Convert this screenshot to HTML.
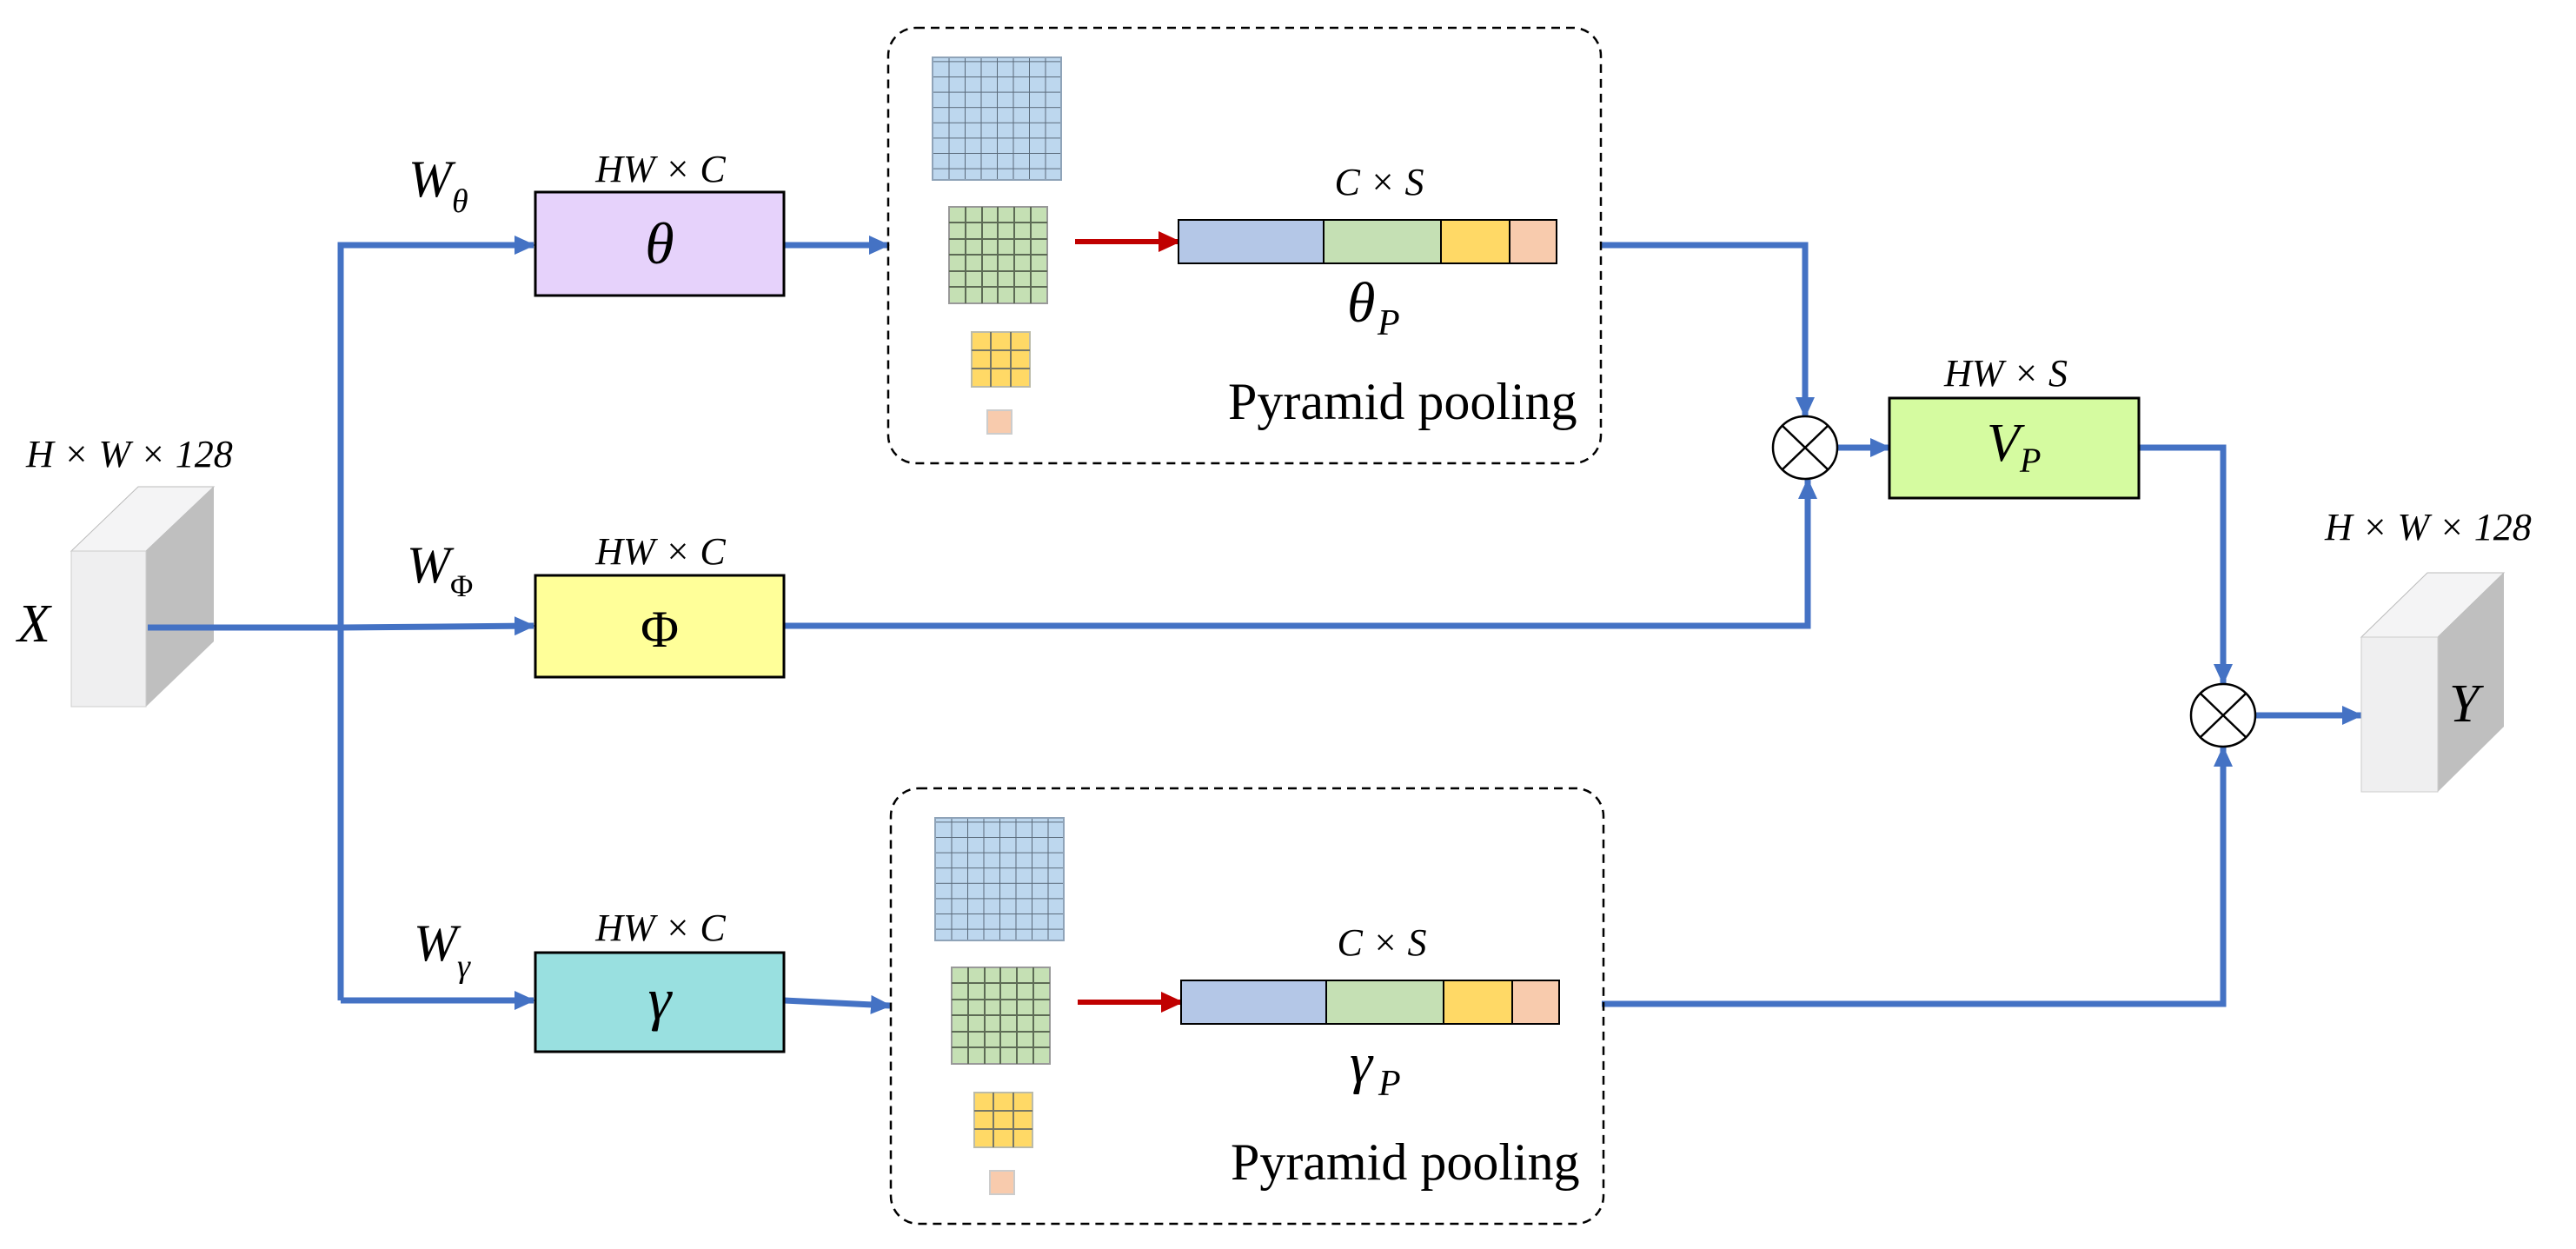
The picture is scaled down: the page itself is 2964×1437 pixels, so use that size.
<!DOCTYPE html>
<html><head><meta charset="utf-8"><style>
html,body{margin:0;padding:0;background:#fff}
svg{display:block}
text{font-family:"Liberation Serif","DejaVu Serif",serif;fill:#000}
.i{font-style:italic}
</style></head><body>
<svg width="2964" height="1437" viewBox="0 0 2964 1437" xmlns="http://www.w3.org/2000/svg">
<defs>
<marker id="ab" markerWidth="24" markerHeight="22" refX="22" refY="11" orient="auto" markerUnits="userSpaceOnUse"><path d="M0,0 L24,11 L0,22 z" fill="#4472C4"/></marker>
<marker id="ar" markerWidth="26" markerHeight="24" refX="24" refY="12" orient="auto" markerUnits="userSpaceOnUse"><path d="M0,0 L26,12 L0,24 z" fill="#C00000"/></marker>
<pattern id="g8" width="18.5" height="17.6" patternUnits="userSpaceOnUse"><rect width="18.5" height="17.6" fill="#BDD7EE"/><path d="M0,0 H18.5 M0,0 V17.6" stroke="#5a6a7a" stroke-width="2"/></pattern>
</defs>

<!-- X cube -->
<polygon points="82,634 159,560 246,560 168,634" fill="#f4f4f5" stroke="#bbb" stroke-width="1"/>
<polygon points="168,634 246,560 246,738 168,813" fill="#bfbfbf"/>
<rect x="82" y="634" width="86" height="179" fill="#efeff0" stroke="#ccc" stroke-width="1"/>
<text x="30" y="537" font-size="44" class="i">H × W × 128</text>
<text x="20" y="738" font-size="62" class="i">X</text>

<!-- blue connectors -->
<g stroke="#4472C4" stroke-width="7" fill="none">
<path d="M170,722 L392,722"/>
<path d="M392,722 L614,720" marker-end="url(#ab)"/>
<path d="M392,1151 L392,282 L614,282" marker-end="url(#ab)"/>
<path d="M392,1151 L614,1151" marker-end="url(#ab)"/>
<path d="M902,282 L1022,282" marker-end="url(#ab)"/>
<path d="M902,1151 L1024,1157" marker-end="url(#ab)"/>
<path d="M1843,282 L2077,282 L2077,479" marker-end="url(#ab)"/>
<path d="M902,720 L2080,720 L2080,552" marker-end="url(#ab)"/>
<path d="M2114,515 L2174,515" marker-end="url(#ab)"/>
<path d="M2461,515 L2558,515 L2558,786" marker-end="url(#ab)"/>
<path d="M1843,1155 L2558,1155 L2558,860" marker-end="url(#ab)"/>
<path d="M2595,823 L2717,823" marker-end="url(#ab)"/>
</g>

<!-- boxes -->
<rect x="616" y="221" width="286" height="119" fill="#E6D2FB" stroke="#000" stroke-width="3"/>
<text x="759" y="303" font-size="68" class="i" text-anchor="middle">θ</text>
<text x="760" y="209" font-size="44" class="i" text-anchor="middle">HW × C</text>
<text x="470" y="226" font-size="60" class="i">W</text><text x="520" y="244" font-size="38" class="i">θ</text>

<rect x="616" y="662" width="286" height="117" fill="#FFFF99" stroke="#000" stroke-width="3"/>
<text x="759" y="744" font-size="60" text-anchor="middle">Φ</text>
<text x="760" y="649" font-size="44" class="i" text-anchor="middle">HW × C</text>
<text x="468" y="670" font-size="60" class="i">W</text><text x="518" y="686" font-size="36">Φ</text>

<rect x="616" y="1096" width="286" height="114" fill="#99E0E0" stroke="#000" stroke-width="3"/>
<text x="759" y="1172" font-size="68" class="i" text-anchor="middle">γ</text>
<text x="760" y="1082" font-size="44" class="i" text-anchor="middle">HW × C</text>
<text x="476" y="1105" font-size="60" class="i">W</text><text x="526" y="1124" font-size="38" class="i">γ</text>

<!-- pyramid groups -->
<g id="pp">
<rect x="1022" y="32" width="820" height="501" rx="32" fill="none" stroke="#000" stroke-width="2.5" stroke-dasharray="10,7"/>
<rect x="1073" y="66" width="148" height="141" fill="url(#g8)" stroke="#8fa3b8" stroke-width="2"/>
<g>
<rect x="1092" y="238" width="113" height="111" fill="#C5E0B4" stroke="#999" stroke-width="2"/>
<path d="M1111,238V349M1130,238V349M1148,238V349M1167,238V349M1186,238V349M1092,256H1205M1092,275H1205M1092,293H1205M1092,312H1205M1092,330H1205" stroke="#5d6b55" stroke-width="2"/>
</g>
<rect x="1118" y="382" width="67" height="63" fill="#FFD966" stroke="#bba" stroke-width="2"/>
<path d="M1140,382V445M1163,382V445M1118,403H1185M1118,424H1185" stroke="#776" stroke-width="2"/>
<rect x="1136" y="472" width="28" height="27" fill="#F8CBAD" stroke="#ccc" stroke-width="2"/>
<path d="M1237,278 L1357,278" stroke="#C00000" stroke-width="6" marker-end="url(#ar)"/>
<rect x="1356" y="253" width="167" height="50" fill="#B4C7E7"/>
<rect x="1523" y="253" width="135" height="50" fill="#C5E0B4"/>
<rect x="1658" y="253" width="79" height="50" fill="#FFD966"/>
<rect x="1737" y="253" width="54" height="50" fill="#F8CBAD"/>
<rect x="1356" y="253" width="435" height="50" fill="none" stroke="#000" stroke-width="2"/>
<path d="M1523,253V303M1658,253V303M1737,253V303" stroke="#000" stroke-width="2"/>
<text x="1587" y="224" font-size="44" class="i" text-anchor="middle">C × S</text>
<text x="1413" y="482" font-size="60">Pyramid pooling</text>
</g>
<text x="1550" y="370" font-size="66" class="i">θ</text><text x="1585" y="385" font-size="42" class="i">P</text>
<use href="#pp" transform="translate(3,875)"/>
<text x="1553" y="1245" font-size="66" class="i">γ</text><text x="1586" y="1260" font-size="42" class="i">P</text>

<!-- otimes -->
<g fill="#fff" stroke="#000" stroke-width="2.5">
<ellipse cx="2077" cy="515" rx="37" ry="36"/>
<path d="M2051,490 L2103,540 M2103,490 L2051,540" fill="none"/>
<ellipse cx="2558" cy="823" rx="37" ry="36"/>
<path d="M2532,798 L2584,848 M2584,798 L2532,848" fill="none"/>
</g>

<!-- Vp -->
<rect x="2174" y="458" width="287" height="115" fill="#D5FBA0" stroke="#000" stroke-width="3"/>
<text x="2286" y="530" font-size="62" class="i">V</text><text x="2324" y="543" font-size="40" class="i">P</text>
<text x="2308" y="444" font-size="44" class="i" text-anchor="middle">HW × S</text>

<!-- Y cube -->
<polygon points="2717,733 2793,659 2881,659 2805,733" fill="#f4f4f5" stroke="#bbb" stroke-width="1"/>
<polygon points="2805,733 2881,659 2881,836 2805,911" fill="#bfbfbf"/>
<rect x="2717" y="733" width="88" height="178" fill="#efeff0" stroke="#ccc" stroke-width="1"/>
<text x="2818" y="830" font-size="62" class="i">Y</text>
<text x="2675" y="621" font-size="44" class="i">H × W × 128</text>
</svg>
</body></html>
